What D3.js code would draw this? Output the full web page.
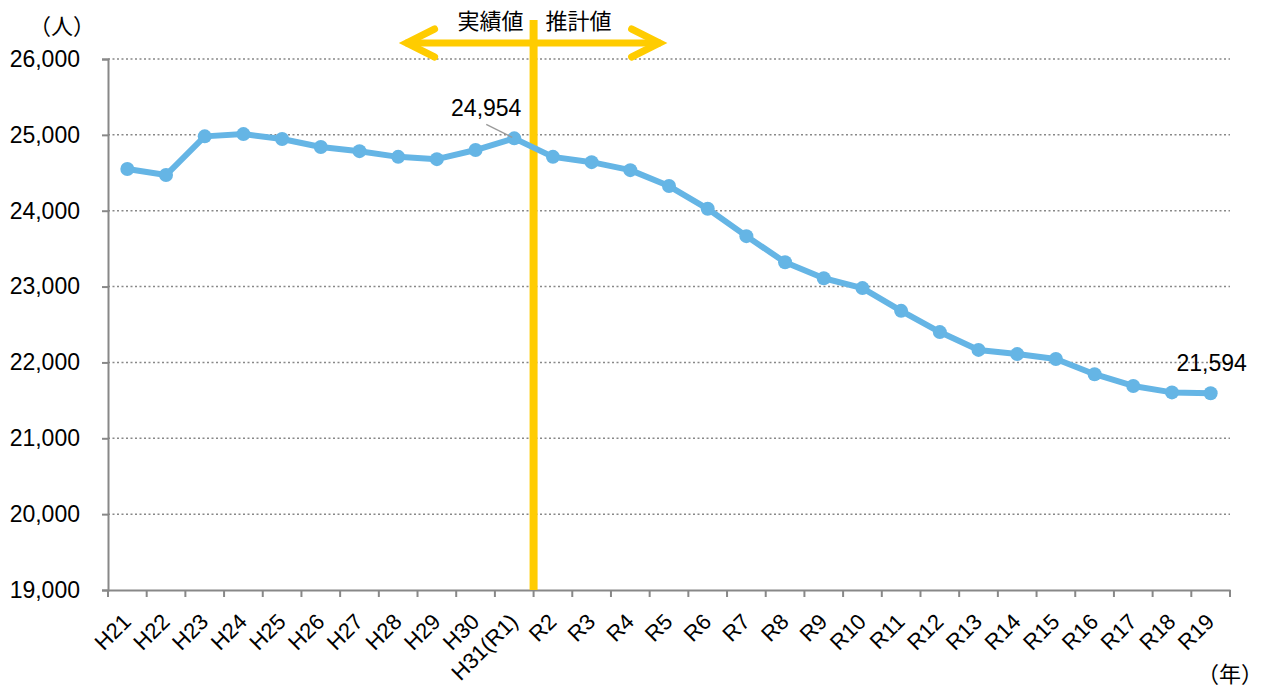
<!DOCTYPE html>
<html>
<head>
<meta charset="utf-8">
<script src="https://cdn.jsdelivr.net/npm/d3@7"></script>
<style>
body{margin:0;background:#fff;}
text{font-family:"Liberation Sans",Arial,"Noto Sans CJK JP",sans-serif;fill:#000;}
</style>
</head>
<body>
<div id="content"></div>
<script>
// data
var years=["H21","H22","H23","H24","H25","H26","H27","H28","H29","H30","H31(R1)",
  "R2","R3","R4","R5","R6","R7","R8","R9","R10","R11","R12","R13","R14","R15","R16","R17","R18","R19"];
var population=[24550,24470,24980,25010,24945,24840,24785,24710,24680,24800,24954,
  24710,24640,24535,24325,24025,23665,23320,23110,22980,22680,22400,22165,22110,22045,21845,21690,21605,21594];
var yTicks=[19000,20000,21000,22000,23000,24000,25000,26000];
var labelled=["H31(R1)","R19"];

var width=1266,height=688;
var margin={left:108,top:59,right:36,bottom:98};
var lineColor="#65b5e5",gold="#ffcc00";

var svg=d3.select("#content").append("svg")
  .attr("width",width).attr("height",height);

var x=d3.scaleBand().domain(years).range([margin.left,width-margin.right]);
var y=d3.scaleLinear().domain([19000,26000]).range([height-margin.bottom,margin.top]);
var fmt=d3.format(",");

// grid
svg.selectAll(".grid").data(yTicks.slice(1)).enter().append("line")
  .attr("x1",margin.left).attr("x2",width-margin.right)
  .attr("y1",function(d){return y(d);}).attr("y2",function(d){return y(d);})
  .attr("stroke","#888").attr("stroke-width",1.5).attr("stroke-dasharray","2,2.5");

// y axis
var yAxis=svg.append("g").attr("transform","translate("+margin.left+",0)")
  .call(d3.axisLeft(y).tickValues(yTicks).tickFormat(fmt).tickSize(6).tickPadding(22));
yAxis.select(".domain").attr("stroke","#888").attr("stroke-width",2);
yAxis.selectAll(".tick line").attr("stroke","#888").attr("stroke-width",2);
yAxis.selectAll("text").attr("font-size",23).style("font-family","Liberation Sans, Arial");

// x axis
var xAxis=svg.append("g").attr("transform","translate(0,"+y(19000)+")")
  .call(d3.axisBottom(x).tickSize(0).tickPadding(0));
xAxis.select(".domain").attr("stroke","#888").attr("stroke-width",2);
xAxis.selectAll(".tick text")
  .attr("font-size",22).style("font-family","Liberation Sans, Arial")
  .attr("text-anchor","end")
  .attr("y",0).attr("dy",0)
  .attr("transform","translate(5,33) rotate(-45)");
// boundary ticks
var bounds=years.map(function(d){return x(d);}).concat([x.range()[1]]);
svg.selectAll(".xtick").data(bounds).enter().append("line")
  .attr("x1",function(d){return d;}).attr("x2",function(d){return d;})
  .attr("y1",y(19000)).attr("y2",y(19000)+7)
  .attr("stroke","#888").attr("stroke-width",2);

// divider between actual and estimated
var divX=x("R2");
svg.append("line").attr("x1",divX).attr("x2",divX).attr("y1",20).attr("y2",y(19000))
  .attr("stroke",gold).attr("stroke-width",8);
// arrow
var ay=43,ax1=divX-131,ax2=divX+130;
svg.append("line").attr("x1",ax1+3).attr("x2",ax2-3).attr("y1",ay).attr("y2",ay)
  .attr("stroke",gold).attr("stroke-width",7);
svg.append("path").attr("d","M"+(ax1+32)+","+(ay-14)+"L"+(ax1+4)+","+ay+"L"+(ax1+32)+","+(ay+14))
  .attr("fill","none").attr("stroke",gold).attr("stroke-width",7)
  .attr("stroke-linecap","round").attr("stroke-linejoin","miter");
svg.append("path").attr("d","M"+(ax2-32)+","+(ay-14)+"L"+(ax2-4)+","+ay+"L"+(ax2-32)+","+(ay+14))
  .attr("fill","none").attr("stroke",gold).attr("stroke-width",7)
  .attr("stroke-linecap","round").attr("stroke-linejoin","miter");
svg.append("text").attr("x",divX-10).attr("y",29).attr("text-anchor","end")
  .attr("font-size",22).style("font-family","Noto Sans CJK JP").text("実績値");
svg.append("text").attr("x",divX+12).attr("y",29).attr("text-anchor","start")
  .attr("font-size",22).style("font-family","Noto Sans CJK JP").text("推計値");

// line
var cx=function(d,i){return x(years[i])+x.bandwidth()/2;};
var line=d3.line().x(cx).y(function(d){return y(d);});
svg.append("path").datum(population).attr("d",line)
  .attr("fill","none").attr("stroke",lineColor).attr("stroke-width",6).attr("stroke-linejoin","round");
svg.selectAll(".dot").data(population).enter().append("circle")
  .attr("cx",cx).attr("cy",function(d){return y(d);}).attr("r",7)
  .attr("fill",lineColor);

// data labels
var i1=years.indexOf(labelled[0]),i2=years.indexOf(labelled[1]);
var p1x=cx(0,i1),p1y=y(population[i1]);
svg.append("line").attr("x1",p1x-28).attr("y1",p1y-14).attr("x2",p1x-2).attr("y2",p1y-1)
  .attr("stroke","#999").attr("stroke-width",1.3);
svg.append("text").attr("x",p1x-28).attr("y",p1y-22).attr("text-anchor","middle")
  .attr("font-size",23).text(fmt(population[i1]));
svg.append("text").attr("x",cx(0,i2)+1).attr("y",y(population[i2])-22).attr("text-anchor","middle")
  .attr("font-size",23).text(fmt(population[i2]));

// unit labels
svg.append("text").attr("x",62).attr("y",34).attr("text-anchor","middle")
  .attr("font-size",22).style("font-family","Noto Sans CJK JP").text("（人）");
svg.append("text").attr("x",1230).attr("y",682).attr("text-anchor","middle")
  .attr("font-size",22).style("font-family","Noto Sans CJK JP").text("（年）");
</script>
</body>
</html>
